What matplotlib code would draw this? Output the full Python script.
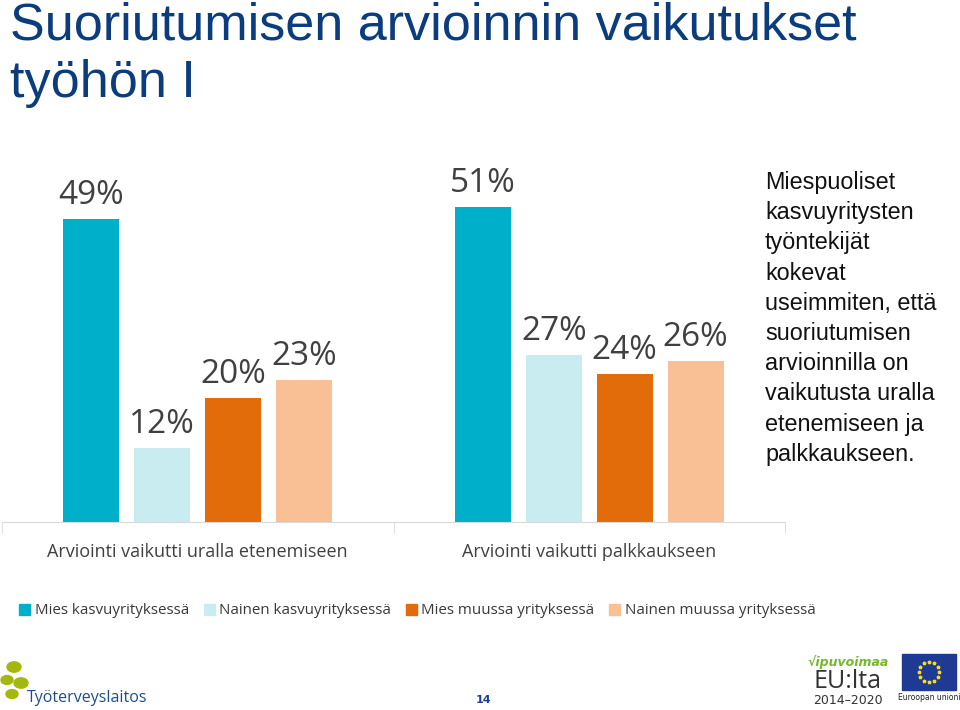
#%% imports
from matplotlib import pyplot as plt
from matplotlib.patches import Patch, Rectangle, Circle
import numpy as np

#%% data
categories = ["Arviointi vaikutti uralla etenemiseen", "Arviointi vaikutti palkkaukseen"]
series = ["Mies kasvuyrityksessä", "Nainen kasvuyrityksessä",
          "Mies muussa yrityksessä", "Nainen muussa yrityksessä"]
colors = ["#00afc9", "#c9ecf0", "#e36c0a", "#f9c095"]
mies_kasvu = [49, 51]
nainen_kasvu = [12, 27]
mies_muu = [20, 24]
nainen_muu = [23, 26]
values = [mies_kasvu, nainen_kasvu, mies_muu, nainen_muu]

title = "Suoriutumisen arvioinnin vaikutukset\ntyöhön I"
side_text = ("Miespuoliset\nkasvuyritysten\ntyöntekijät\nkokevat\nuseimmiten, että\n"
             "suoriutumisen\narvioinnilla on\nvaikutusta uralla\netenemiseen ja\npalkkaukseen.")

#%% figure
fig = plt.figure(figsize=(9.6, 7.1), dpi=100)
ax = fig.add_axes([2/960, 188/710, 783/960, 371/710])

x = np.arange(len(categories))
step = 0.181
width = 0.143
for i, vals in enumerate(values):
    pos = x + (i - 1.5) * step
    bars = ax.bar(pos, vals, width=width, color=colors[i], label=series[i])
    for b, v in zip(bars, vals):
        ax.annotate(f"{v}%", (b.get_x() + b.get_width() / 2, v),
                    xytext=(0, 5), textcoords="offset points",
                    ha="center", va="bottom", fontsize=24,
                    color="#404040", family="Open Sans")

ax.set_xlim(-0.5, 1.5)
ax.set_ylim(0, 60)
ax.set_yticks([])
for s in ["top", "right", "left"]:
    ax.spines[s].set_visible(False)
ax.spines["bottom"].set_color("#d9d9d9")
ax.set_xticks(x)
ax.set_xticklabels(categories, fontsize=13, color="#404040", family="Open Sans")
ax.tick_params(axis="x", which="major", length=0, pad=15)
ax.set_xticks([-0.5, 0.5, 1.5], minor=True)
ax.tick_params(axis="x", which="minor", length=8, color="#d9d9d9")

# legend
handles = [Patch(color=c, label=s) for c, s in zip(colors, series)]
fig.legend(handles=handles, loc="center left", bbox_to_anchor=(0.006, 1 - 611/710),
           ncol=4, frameon=False, handlelength=0.7, handleheight=0.7,
           handletextpad=0.3, columnspacing=1.0,
           prop={"family": "Open Sans", "size": 10.9}, labelcolor="#3a3a3a")

# title and side text
fig.text(10/960, 1 - 1/710, title, fontsize=37.5, color="#0b3c7d",
         family="Liberation Sans", va="top", ha="left", linespacing=1.23)
fig.text(765/960, 1 - 171/710, side_text, fontsize=16.8, color="#111111",
         family="Liberation Sans", va="top", ha="left", linespacing=1.4)

#%% footer: logos and page number
for cx, cy, r in [(14, 667, 7), (7, 680, 6), (21, 683, 7), (12, 694, 6)]:
    fig.patches.append(Circle((cx/960, 1 - cy/710), r/960, transform=fig.transFigure,
                              color="#a4b70d", zorder=1))
fig.text(27/960, 1 - 698/710, "Työterveyslaitos", fontsize=11.5, color="#1a4f8b",
         family="Open Sans", va="center", ha="left")
fig.text(483/960, 1 - 700/710, "14", fontsize=8, color="#1a3f9b",
         fontweight="bold", va="center", ha="center")
fig.text(848/960, 1 - 662/710, "√ipuvoimaa", fontsize=9, color="#76b82a",
         fontweight="bold", style="italic", va="center", ha="center")
fig.text(848/960, 1 - 682/710, "EU:lta", fontsize=18, color="#333333",
         family="Open Sans", va="center", ha="center")
fig.text(848/960, 1 - 700/710, "2014–2020", fontsize=9, color="#333333",
         va="center", ha="center")
fig.patches.append(Rectangle((902/960, 1 - 690/710), 54/960, 36/710,
                             transform=fig.transFigure, color="#1f3a93"))
ang = np.linspace(0, 2 * np.pi, 13)[:-1]
fig.lines.append(plt.Line2D(929/960 + 10/960 * np.cos(ang), 1 - 672/710 + 10/710 * np.sin(ang),
                            transform=fig.transFigure, ls="", marker="*",
                            ms=2.5, color="#ffdd00"))
fig.text(929/960, 1 - 697/710, "Euroopan unioni", fontsize=5.5, color="#222222",
         va="center", ha="center")

fig.savefig("out.png", dpi=100)
